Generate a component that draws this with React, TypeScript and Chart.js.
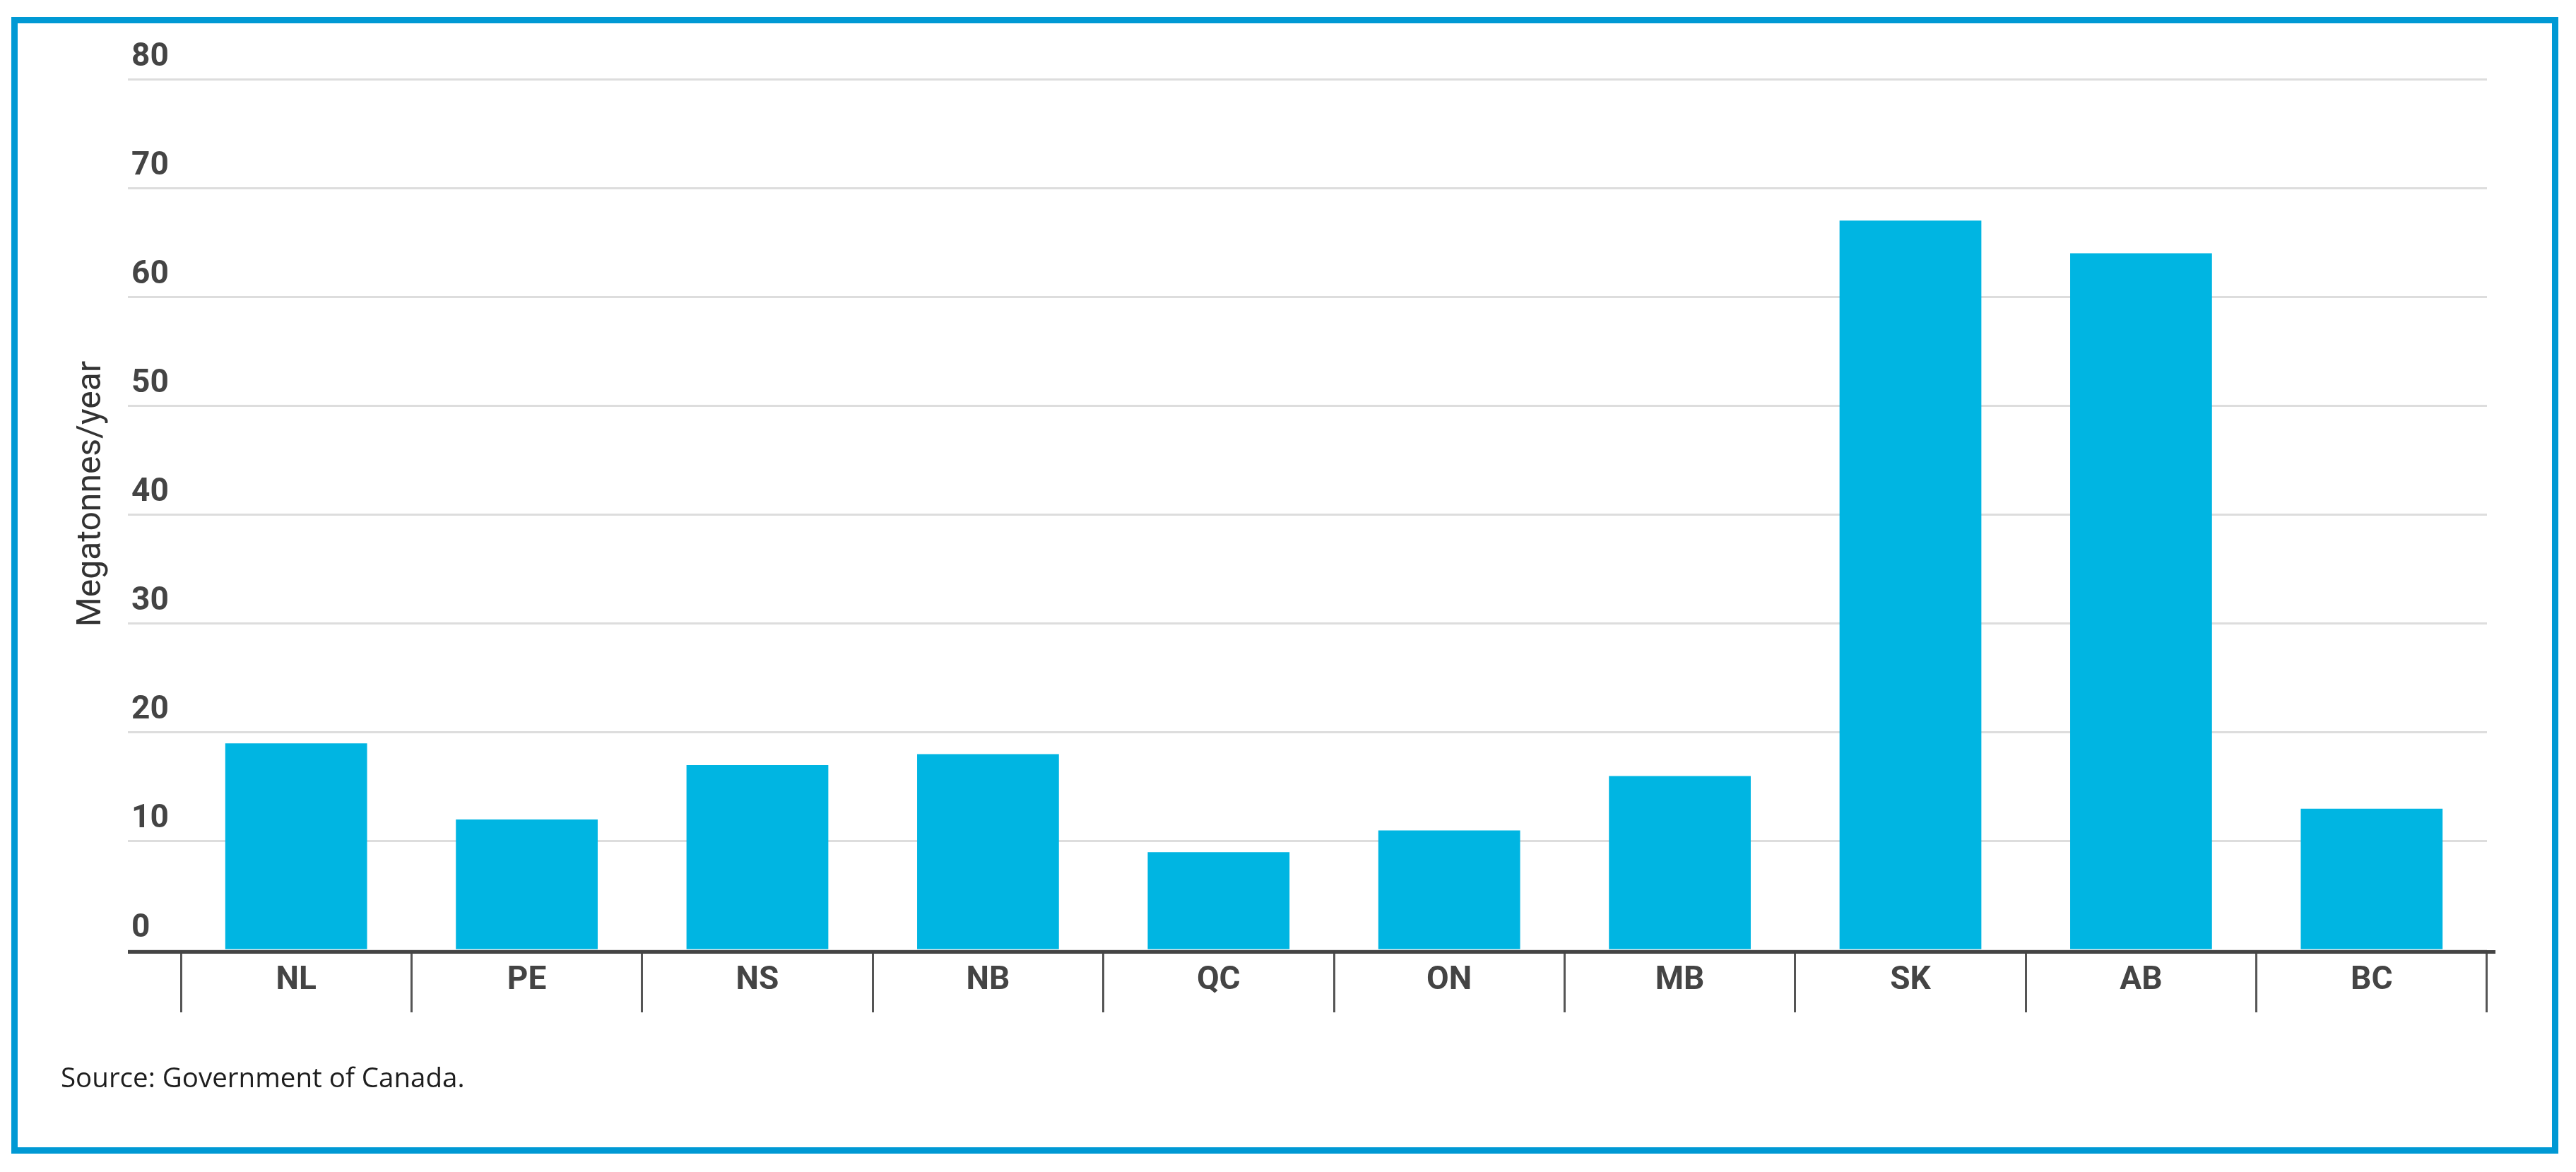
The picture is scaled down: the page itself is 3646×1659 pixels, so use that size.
import React, { useEffect, useRef } from "react";
import { Chart, registerables } from "chart.js";

Chart.register(...registerables);

// ---- data ----
const categories = ["NL", "PE", "NS", "NB", "QC", "ON", "MB", "SK", "AB", "BC"];
const emissions = [19, 12, 17, 18, 9, 11, 16, 67, 64, 13];
const yTickValues = [0, 10, 20, 30, 40, 50, 60, 70, 80];
const yTitle = "Megatonnes/year";
const sourceNote = "Source: Government of Canada.";

// ---- layout ----
const W = 3646;
const H = 1659;
const PAD = { left: 86, right: 126, top: 112, bottom: 108 };
const Y_AXIS_W = 170;
const X_AXIS_H = 159.8;
const Y_TICK_LEN = 75;
const X_TICK_LEN = 88;

const axisLinePlugin = {
  id: "axisLine",
  afterDatasetsDraw(chart: any) {
    const { ctx, chartArea } = chart;
    ctx.save();
    ctx.strokeStyle = "#444444";
    ctx.lineWidth = 5;
    ctx.beginPath();
    ctx.moveTo(chartArea.left - Y_TICK_LEN, chartArea.bottom + 2.5);
    ctx.lineTo(chartArea.right + 12, chartArea.bottom + 2.5);
    ctx.stroke();
    ctx.restore();
  },
};

const yTitlePlugin = {
  id: "yTitleCustom",
  afterDraw(chart: any) {
    const { ctx } = chart;
    ctx.save();
    ctx.translate(130, 699);
    ctx.rotate(-Math.PI / 2);
    ctx.font = "48px Roboto";
    ctx.fillStyle = "#333333";
    ctx.textAlign = "center";
    ctx.textBaseline = "middle";
    ctx.fillText(yTitle, 0, 0);
    ctx.restore();
  },
};

export default function App() {
  const ref = useRef<HTMLCanvasElement | null>(null);

  useEffect(() => {
    if (!ref.current) return;
    const chart = new Chart(ref.current, {
      type: "bar",
      data: {
        labels: categories,
        datasets: [
          {
            data: emissions,
            backgroundColor: "#00b5e2",
            borderWidth: 0,
            categoryPercentage: 1,
            barPercentage: 0.615,
          },
        ],
      },
      options: {
        responsive: false,
        animation: false,
        devicePixelRatio: 1,
        layout: { padding: PAD },
        plugins: {
          legend: { display: false },
          tooltip: { enabled: false },
          title: {
            display: true,
            text: sourceNote,
            position: "bottom",
            align: "start",
            color: "#1e1e1e",
            font: { family: "'Open Sans'", size: 38.5, weight: "normal", lineHeight: 1.2 },
            padding: 0,
          },
        },
        scales: {
          x: {
            type: "category",
            offset: true,
            grid: {
              display: true,
              offset: true,
              drawOnChartArea: false,
              drawTicks: true,
              tickLength: X_TICK_LEN,
              tickColor: "#555555",
              tickWidth: 3,
            },
            border: { display: false },
            ticks: {
              color: "#444444",
              font: { family: "Roboto", size: 46, weight: "bold" },
              padding: -72,
              maxRotation: 0,
              autoSkip: false,
            },
            afterFit: (s: any) => {
              s.height = X_AXIS_H;
            },
          },
          y: {
            min: 0,
            max: 80,
            afterBuildTicks: (s: any) => {
              s.ticks = yTickValues.map((v) => ({ value: v }));
            },
            grid: {
              color: "#dddddd",
              lineWidth: 3,
              drawTicks: true,
              tickLength: Y_TICK_LEN,
              tickColor: "#dddddd",
              tickWidth: 3,
            },
            border: { display: false },
            ticks: {
              mirror: true,
              crossAlign: "near",
              padding: -70,
              labelOffset: -31,
              color: "#444444",
              font: { family: "Roboto", size: 46, weight: "bold" },
            },
            afterFit: (s: any) => {
              s.width = Y_AXIS_W;
            },
          },
        },
      },
      plugins: [axisLinePlugin, yTitlePlugin],
    });
    return () => chart.destroy();
  }, []);

  return (
    <div style={{ position: "fixed", left: 0, top: 0, width: W, height: H, background: "#ffffff" }}>
      <canvas ref={ref} width={W} height={H} style={{ position: "absolute", left: 0, top: 0, width: W, height: H }} />
      <div
        style={{
          position: "absolute",
          left: 16,
          top: 24,
          width: 3605,
          height: 1609,
          border: "9px solid #0099d4",
          boxSizing: "border-box",
          pointerEvents: "none",
        }}
      />
    </div>
  );
}
